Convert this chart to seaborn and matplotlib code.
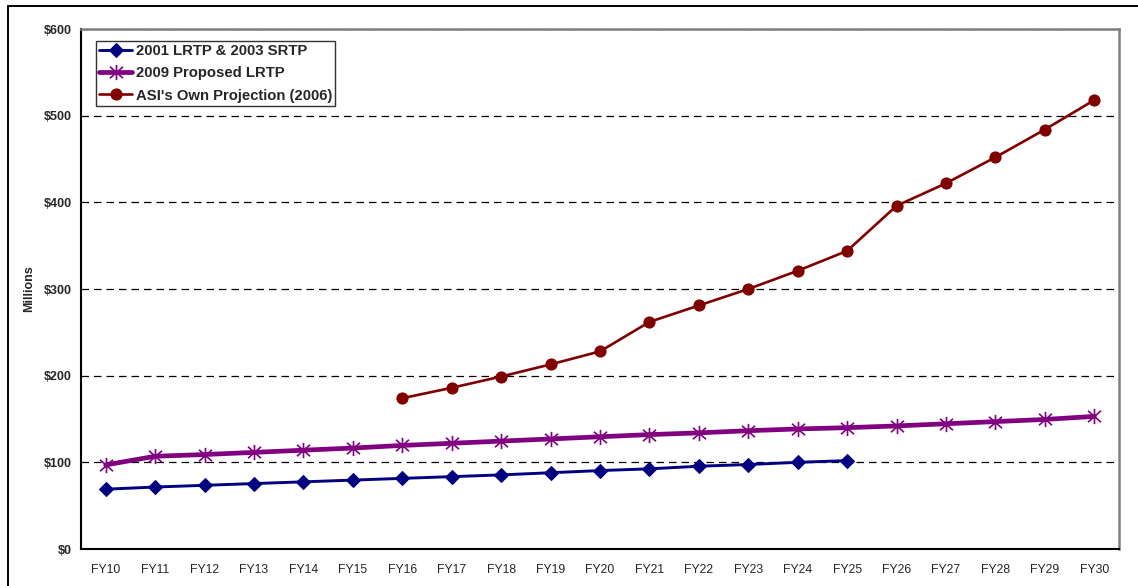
import matplotlib
matplotlib.use("Agg")
import matplotlib.pyplot as plt
from matplotlib.path import Path
from matplotlib.lines import Line2D
import seaborn as sns
import pandas as pd

# Fiscal years on the category axis
years = ["FY10", "FY11", "FY12", "FY13", "FY14", "FY15", "FY16", "FY17", "FY18", "FY19",
         "FY20", "FY21", "FY22", "FY23", "FY24", "FY25", "FY26", "FY27", "FY28", "FY29", "FY30"]

# Series values, $ millions
lrtp_2001_years = years[:16]
lrtp_2001 = [69, 71.5, 73.5, 75.5, 77.5, 79.5, 81.5, 83.5, 85.5, 88, 90.5, 92.5, 95.5, 97.5, 100, 102]

lrtp_2009_years = years
lrtp_2009 = [97, 107, 109, 111.5, 114, 116.5, 119.5, 122, 124.5, 127, 129.5, 132, 134, 136.5,
             138.5, 140, 142, 144.5, 147, 149.5, 153]

asi_years = years[6:]
asi_own = [174, 186, 199, 213, 228, 262, 281, 300, 321, 344, 396, 422, 452, 484, 518]

series_names = ["2001 LRTP & 2003 SRTP", "2009 Proposed LRTP", "ASI's Own Projection (2006)"]
y_ticks = [0, 100, 200, 300, 400, 500, 600]
y_tick_labels = ["$0", "$100", "$200", "$300", "$400", "$500", "$600"]

sns.set_style("white")
plt.rcParams["font.family"] = ["Liberation Sans", "DejaVu Sans"]

W, H = 1138, 586
fig = plt.figure(figsize=(W / 100, H / 100), dpi=100)
fig.patch.set_facecolor("white")

# Plot area
left, right, top, bottom = 81, 1119, 29, 549
ax = fig.add_axes([left / W, 1 - bottom / H, (right - left) / W, (bottom - top) / H])

# Asterisk marker: vertical stroke plus an X
ast = Path([(0, -1), (0, 1), (-0.85, -0.75), (0.85, 0.75), (-0.85, 0.75), (0.85, -0.75)],
           [Path.MOVETO, Path.LINETO, Path.MOVETO, Path.LINETO, Path.MOVETO, Path.LINETO])

df1 = pd.DataFrame({"year": lrtp_2001_years, "value": lrtp_2001})
df2 = pd.DataFrame({"year": lrtp_2009_years, "value": lrtp_2009})
df3 = pd.DataFrame({"year": asi_years, "value": asi_own})

sns.lineplot(data=df1, x="year", y="value", ax=ax, color="#000080", lw=2.1,
             marker="D", markersize=6.8, markeredgecolor="#000080", label=series_names[0],
             sort=False, zorder=3)
sns.lineplot(data=df2, x="year", y="value", ax=ax, color="#800080", lw=3.4,
             marker=ast, markersize=11, markeredgewidth=1.2, markeredgecolor="#800080",
             markerfacecolor="none", label=series_names[1], sort=False, zorder=3)
sns.lineplot(data=df3, x="year", y="value", ax=ax, color="#800000", lw=1.9,
             marker="o", markersize=8, markeredgecolor="#800000", label=series_names[2],
             sort=False, zorder=3)

ax.set_xlim(-0.5, len(years) - 0.5)
ax.set_ylim(0, 600)

# Y axis
ax.set_yticks(y_ticks)
ax.set_yticklabels(y_tick_labels, fontsize=9, fontweight="bold")
ax.set_ylabel("Millions", fontsize=9, fontweight="bold", labelpad=6)

# X axis: labels centered in each category, tick marks on category boundaries
ax.set_xticks(range(len(years)))
ax.set_xticklabels(years, fontsize=8.8)
ax.set_xticks([i - 0.5 for i in range(len(years) + 1)], minor=True)
ax.tick_params(axis="x", which="major", length=0, pad=11)
ax.tick_params(axis="x", which="minor", length=4.5, width=1.2, direction="out", color="black")
ax.tick_params(axis="y", which="major", length=4.5, width=1.2, direction="out", color="black", pad=2)
ax.set_xlabel("")

# Dashed horizontal gridlines
for v in y_ticks[1:]:
    ax.axhline(v, color="black", lw=0.9, ls=(0, (6, 4)), zorder=1)

for s in ["left", "bottom"]:
    ax.spines[s].set_color("black")
    ax.spines[s].set_linewidth(1.5)
for s in ["right", "top"]:
    ax.spines[s].set_color("#808080")
    ax.spines[s].set_linewidth(1.8)

leg = ax.legend(loc="upper left", bbox_to_anchor=(15 / (right - left), 1 - 12 / (bottom - top)),
                frameon=True, fancybox=False, shadow=False, borderaxespad=0,
                prop={"weight": "bold", "size": 10.7}, handlelength=2.2, handletextpad=0.25,
                labelspacing=0.55, borderpad=0.22)
leg.get_frame().set_edgecolor("black")
leg.get_frame().set_linewidth(1.0)

# Outer chart frame (left and top edges)
fig.add_artist(Line2D([8 / W, 8 / W], [0, 1 - 6 / H], transform=fig.transFigure,
                      color="black", lw=1.4))
fig.add_artist(Line2D([8 / W, 1], [1 - 6 / H, 1 - 6 / H], transform=fig.transFigure,
                      color="black", lw=1.4))

fig.savefig("out.png", dpi=100, facecolor="white")
